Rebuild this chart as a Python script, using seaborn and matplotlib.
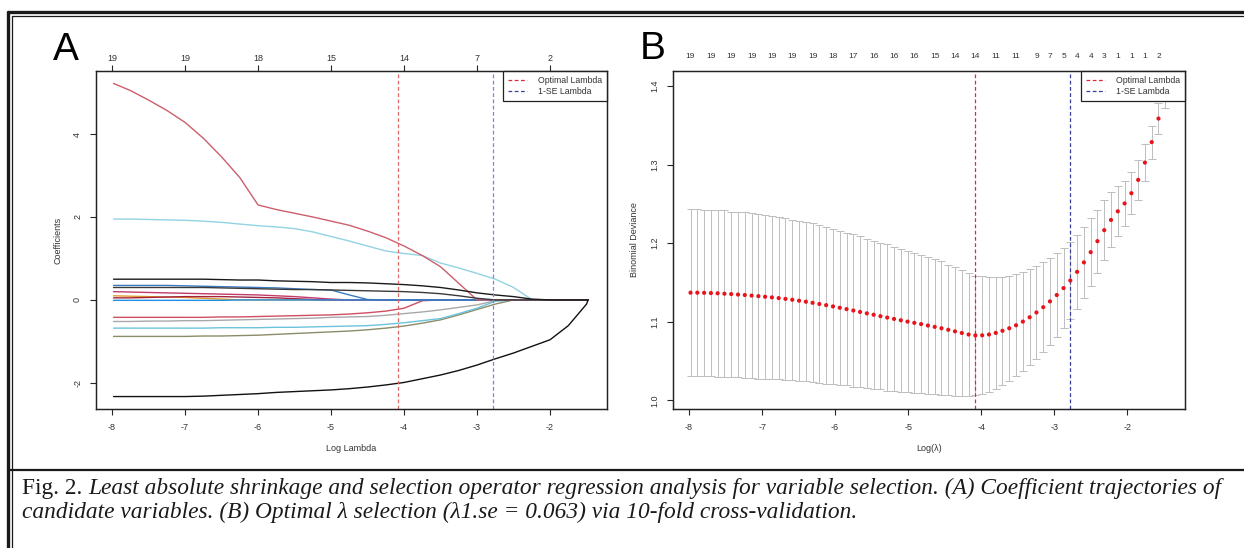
import numpy as np
import pandas as pd
import matplotlib
matplotlib.use("Agg")
import matplotlib.pyplot as plt
from matplotlib.lines import Line2D
import seaborn as sns

# ------------------------------------------------------------
# DATA - panel A (lasso coefficient paths)
# ------------------------------------------------------------
log_lambda_a = [-7.98, -7.75, -7.5, -7.25, -7.0, -6.75, -6.5, -6.25, -6.0, -5.75,
                -5.5, -5.25, -5.0, -4.75, -4.5, -4.25, -4.0, -3.75, -3.5, -3.25,
                -3.0, -2.75, -2.5, -2.25, -2.0, -1.75, -1.5, -1.48]

coef_red = [5.22, 5.05, 4.82, 4.57, 4.28, 3.90, 3.45, 2.95, 2.29, 2.18,
            2.09, 2.00, 1.90, 1.80, 1.66, 1.50, 1.30, 1.07, 0.80, 0.40,
            0, 0, 0, 0, 0, 0, 0, 0]
coef_cyan = [1.95, 1.95, 1.94, 1.93, 1.92, 1.90, 1.87, 1.83, 1.79, 1.76,
             1.72, 1.64, 1.53, 1.42, 1.30, 1.18, 1.12, 1.07, 0.89, 0.77,
             0.64, 0.50, 0.30, 0.01, 0, 0, 0, 0]
coef_black1 = [0.50, 0.50, 0.50, 0.50, 0.50, 0.50, 0.49, 0.48, 0.48, 0.46,
               0.45, 0.44, 0.42, 0.42, 0.41, 0.39, 0.37, 0.34, 0.30, 0.24,
               0.17, 0.12, 0.08, 0.02, 0, 0, 0, 0]
coef_black2 = [0.30, 0.30, 0.30, 0.30, 0.30, 0.30, 0.29, 0.28, 0.27, 0.26,
               0.25, 0.25, 0.24, 0.23, 0.22, 0.21, 0.20, 0.18, 0.15, 0.10,
               0.04, 0, 0, 0, 0, 0, 0, 0]
coef_blue = [0.35, 0.35, 0.35, 0.35, 0.34, 0.33, 0.32, 0.31, 0.30, 0.29,
             0.27, 0.25, 0.24, 0.12, 0.01, 0, 0, 0, 0, 0,
             0, 0, 0, 0, 0, 0, 0, 0]
coef_crimson = [0.20, 0.19, 0.18, 0.17, 0.16, 0.15, 0.14, 0.13, 0.12, 0.10,
                0.08, 0.05, 0.02, 0, 0, 0, 0, 0, 0, 0,
                0, 0, 0, 0, 0, 0, 0, 0]
coef_orange = [0.10, 0.09, 0.08, 0.07, 0.06, 0.04, 0.02, 0, 0, 0,
               0, 0, 0, 0, 0, 0, 0, 0, 0, 0,
               0, 0, 0, 0, 0, 0, 0, 0]
coef_darkred = [0.05, 0.05, 0.06, 0.07, 0.08, 0.08, 0.08, 0.07, 0.06, 0.05,
                0.03, 0.01, 0, 0, 0, 0, 0, 0, 0, 0,
                0, 0, 0, 0, 0, 0, 0, 0]
coef_sky = [-0.01, -0.01, -0.01, -0.01, -0.01, -0.01, -0.01, 0, 0, 0,
            0, 0, 0, 0, 0, 0, 0, 0, 0, 0,
            0, 0, 0, 0, 0, 0, 0, 0]
coef_negred = [-0.42, -0.42, -0.42, -0.42, -0.42, -0.42, -0.41, -0.41, -0.40, -0.39,
               -0.38, -0.37, -0.36, -0.34, -0.31, -0.27, -0.20, -0.02, 0, 0,
               0, 0, 0, 0, 0, 0, 0, 0]
coef_gray = [-0.52, -0.52, -0.51, -0.51, -0.50, -0.50, -0.49, -0.48, -0.47, -0.46,
             -0.45, -0.44, -0.42, -0.41, -0.40, -0.37, -0.33, -0.29, -0.24, -0.18,
             -0.12, -0.02, 0, 0, 0, 0, 0, 0]
coef_negcyan = [-0.68, -0.68, -0.68, -0.68, -0.68, -0.68, -0.67, -0.67, -0.67, -0.66,
                -0.66, -0.65, -0.64, -0.63, -0.62, -0.59, -0.55, -0.50, -0.45, -0.33,
                -0.20, -0.03, 0, 0, 0, 0, 0, 0]
coef_olive = [-0.88, -0.88, -0.88, -0.88, -0.88, -0.87, -0.87, -0.86, -0.85, -0.83,
              -0.81, -0.79, -0.77, -0.75, -0.72, -0.68, -0.63, -0.56, -0.48, -0.36,
              -0.23, -0.10, 0, 0, 0, 0, 0, 0]
coef_bottom = [-2.33, -2.33, -2.33, -2.33, -2.33, -2.32, -2.30, -2.28, -2.26, -2.23,
               -2.21, -2.19, -2.17, -2.14, -2.10, -2.05, -1.99, -1.90, -1.81, -1.70,
               -1.57, -1.42, -1.28, -1.12, -0.96, -0.62, -0.10, 0.0]

top_ticks_a = [-8, -7, -6, -5, -4, -3, -2]
top_labels_a = ["19", "19", "18", "15", "14", "7", "2"]

# ------------------------------------------------------------
# DATA - panel B (10-fold CV binomial deviance)
# ------------------------------------------------------------
log_lambda_b = [-7.980, -7.887, -7.794, -7.701, -7.609, -7.516, -7.423, -7.330, -7.237, -7.144,
                -7.051, -6.959, -6.866, -6.773, -6.680, -6.587, -6.494, -6.401, -6.309, -6.216,
                -6.123, -6.030, -5.937, -5.844, -5.751, -5.659, -5.566, -5.473, -5.380, -5.287,
                -5.194, -5.101, -5.009, -4.916, -4.823, -4.730, -4.637, -4.544, -4.451, -4.359,
                -4.266, -4.173, -4.080, -3.987, -3.894, -3.801, -3.709, -3.616, -3.523, -3.430,
                -3.337, -3.244, -3.151, -3.059, -2.966, -2.873, -2.780, -2.687, -2.594, -2.501,
                -2.409, -2.316, -2.223, -2.130, -2.037, -1.944, -1.851, -1.759, -1.666, -1.573,
                -1.480]
deviance = [1.1370, 1.1370, 1.1368, 1.1365, 1.1362, 1.1357, 1.1352, 1.1346, 1.1340, 1.1333,
            1.1326, 1.1318, 1.1310, 1.1301, 1.1291, 1.1280, 1.1268, 1.1255, 1.1241, 1.1226,
            1.1211, 1.1195, 1.1178, 1.1161, 1.1143, 1.1125, 1.1107, 1.1089, 1.1071, 1.1053,
            1.1036, 1.1019, 1.1002, 1.0986, 1.0970, 1.0952, 1.0935, 1.0917, 1.0898, 1.0878,
            1.0857, 1.0838, 1.0826, 1.0827, 1.0838, 1.0858, 1.0885, 1.0917, 1.0955, 1.1002,
            1.1057, 1.1118, 1.1185, 1.1259, 1.1340, 1.1428, 1.1525, 1.1635, 1.1755, 1.1885,
            1.2025, 1.2165, 1.2295, 1.2405, 1.2505, 1.2635, 1.2805, 1.3025, 1.3285, 1.3585,
            1.3920]
deviance_se = [0.106, 0.106, 0.106, 0.106, 0.106, 0.106, 0.105, 0.105, 0.105, 0.105,
               0.105, 0.104, 0.104, 0.103, 0.103, 0.102, 0.102, 0.101, 0.101, 0.100,
               0.100, 0.099, 0.098, 0.097, 0.097, 0.096, 0.095, 0.094, 0.093, 0.093,
               0.092, 0.091, 0.090, 0.089, 0.088, 0.087, 0.086, 0.085, 0.083, 0.082,
               0.080, 0.078, 0.076, 0.075, 0.073, 0.071, 0.069, 0.067, 0.065, 0.063,
               0.061, 0.059, 0.057, 0.055, 0.053, 0.051, 0.049, 0.047, 0.045, 0.043,
               0.040, 0.038, 0.035, 0.032, 0.029, 0.027, 0.025, 0.023, 0.021, 0.020,
               0.020]

top_idx_b = [0, 3, 6, 9, 12, 15, 18, 21, 24, 27, 30, 33, 36, 39, 42, 45, 48, 51,
             53, 55, 57, 59, 61, 63, 65, 67, 69]
top_labels_b = ["19", "19", "19", "19", "19", "19", "19", "18", "17", "16", "16", "16",
                "15", "14", "14", "11", "11", "9", "7", "5", "4", "4", "3", "1", "1", "1", "2"]

lambda_min_log = -4.08
lambda_1se_log = -2.78

caption_1 = ("Least absolute shrinkage and selection operator regression analysis for "
             "variable selection. (A) Coefficient trajectories of")
caption_2 = ("candidate variables. (B) Optimal \u03bb selection (\u03bb1.se = 0.063) "
             "via 10-fold cross-validation.")

# ------------------------------------------------------------
# STYLE
# ------------------------------------------------------------
sns.set_style("white")
plt.rcParams['font.family'] = ['Liberation Sans', 'DejaVu Sans']
plt.rcParams['axes.linewidth'] = 0.9
plt.rcParams['axes.unicode_minus'] = False

TXT = '#333333'
W, H = 1244, 548
fig = plt.figure(figsize=(W / 100, H / 100), dpi=100)
fig.patch.set_facecolor('white')


def fx(px):
    return px / W


def fy(py):
    return 1 - py / H


axA = fig.add_axes([fx(96), fy(409), fx(511), 338 / H])
axB = fig.add_axes([fx(673), fy(409), fx(512), 338 / H])

# ------------------------------------------------------------
# PANEL A
# ------------------------------------------------------------
path_cols = {
    'olive': coef_olive, 'gray': coef_gray, 'negcyan': coef_negcyan,
    'negred': coef_negred, 'orange': coef_orange, 'darkred': coef_darkred,
    'crimson': coef_crimson, 'sky': coef_sky, 'blue': coef_blue,
    'cyan': coef_cyan, 'red': coef_red, 'black2': coef_black2,
    'black1': coef_black1, 'bottom': coef_bottom,
}
palette = {
    'olive': '#8c8c6a', 'gray': '#a8a8a8', 'negcyan': '#6cc3dc',
    'negred': '#cf4f62', 'orange': '#e39a2a', 'darkred': '#a3233f',
    'crimson': '#c23a6a', 'sky': '#1f8fe6', 'blue': '#3a7abf',
    'cyan': '#92d3e4', 'red': '#cc5f6c', 'black2': '#3a3a3a',
    'black1': '#1a1a1a', 'bottom': '#111111',
}
paths = pd.DataFrame(path_cols)
paths['log_lambda'] = log_lambda_a
paths_long = paths.melt(id_vars='log_lambda', var_name='var', value_name='coef')

sns.lineplot(data=paths_long, x='log_lambda', y='coef', hue='var',
             hue_order=list(path_cols.keys()), palette=palette,
             linewidth=1.0, legend=False, sort=False, ax=axA)

axA.axvline(lambda_min_log, color='#e06a6a', linestyle=(0, (3, 2)), linewidth=0.9)
axA.axvline(lambda_1se_log, color='#7b86d6', linestyle=(0, (3, 2)), linewidth=0.9)

axA.set_xlim(-8.22, -1.22)
axA.set_ylim(-2.63, 5.52)
axA.set_xticks([-8, -7, -6, -5, -4, -3, -2])
axA.set_yticks([-2, 0, 2, 4])
axA.set_yticklabels(['-2', '0', '2', '4'], rotation=90, va='center')
axA.set_xlabel('Log Lambda', fontsize=6.5, color=TXT, labelpad=9)
axA.set_ylabel('Coefficients', fontsize=6.5, color=TXT, labelpad=8)

topA = axA.twiny()
topA.set_xlim(axA.get_xlim())
topA.set_xticks(top_ticks_a)
topA.set_xticklabels(top_labels_a)
topA.tick_params(axis='x', length=4, width=0.8, labelsize=6.5, labelcolor=TXT, pad=2)

# ------------------------------------------------------------
# PANEL B
# ------------------------------------------------------------
cv = pd.DataFrame({'log_lambda': log_lambda_b, 'deviance': deviance, 'se': deviance_se})

axB.errorbar(cv['log_lambda'], cv['deviance'], yerr=cv['se'], fmt='none',
             ecolor='#bdbdbd', elinewidth=0.7, capsize=3.2, capthick=0.7, zorder=1)
sns.scatterplot(data=cv, x='log_lambda', y='deviance', color='#e8141c', s=9,
                edgecolor='none', zorder=3, ax=axB)

axB.axvline(lambda_min_log, color='#e0283a', linestyle=(0, (3, 2)), linewidth=0.9)
axB.axvline(lambda_1se_log, color='#3b3f9a', linestyle=(0, (3, 2)), linewidth=0.9)

axB.set_xlim(-8.22, -1.21)
axB.set_ylim(0.989, 1.419)
axB.set_xticks([-8, -7, -6, -5, -4, -3, -2])
axB.set_yticks([1.0, 1.1, 1.2, 1.3, 1.4])
axB.set_yticklabels(['1.0', '1.1', '1.2', '1.3', '1.4'], rotation=90, va='center')
axB.set_xlabel('Log(\u03bb)', fontsize=6.5, color=TXT, labelpad=9)
axB.set_ylabel('Binomial Deviance', fontsize=6.5, color=TXT, labelpad=8)

topB = axB.twiny()
topB.set_xlim(axB.get_xlim())
topB.set_xticks([log_lambda_b[i] for i in top_idx_b])
topB.set_xticklabels(top_labels_b)
topB.tick_params(axis='x', length=0, labelsize=6.0, labelcolor=TXT, pad=8)

# shared axis cosmetics (R-like box + outward ticks)
for ax in (axA, axB, topA, topB):
    for sp in ax.spines.values():
        sp.set_visible(True)
        sp.set_color('#222222')
        sp.set_linewidth(0.9)
for ax in (axA, axB):
    ax.tick_params(axis='both', direction='out', length=4, width=0.8,
                   labelsize=6.5, labelcolor=TXT, pad=6)
    ax.tick_params(axis='both', bottom=True, left=True)
    handles = [Line2D([], [], color='#e0283a', linestyle=(0, (3, 2)), linewidth=0.9),
               Line2D([], [], color='#3b3f9a', linestyle=(0, (3, 2)), linewidth=0.9)]
    leg = ax.legend(handles, ['Optimal Lambda', '1-SE Lambda'], loc='upper right',
                    fontsize=6.3, frameon=True, fancybox=False, framealpha=1,
                    edgecolor='#222222', borderaxespad=0, handlelength=2.2,
                    borderpad=0.6, labelspacing=0.15, handletextpad=1.2)
    leg.get_frame().set_linewidth(0.9)
    for t in leg.get_texts():
        t.set_color(TXT)
topA.tick_params(axis='x', direction='out', bottom=False, top=True)

# panel letters
fig.text(fx(53), fy(60), 'A', fontsize=28, color='black',
         family=['Liberation Sans Narrow', 'Liberation Sans'], va='baseline')
fig.text(fx(640), fy(59), 'B', fontsize=28, color='black',
         family=['Liberation Sans Narrow', 'Liberation Sans'], va='baseline')

# ------------------------------------------------------------
# FRAME + CAPTION
# ------------------------------------------------------------
frame = [((8, 1244), (11.5, 11.5), 2.4), ((12, 1244), (15.5, 15.5), 0.9),
         ((8, 8), (11.5, 548), 2.4), ((12, 12), (15.5, 548), 0.9),
         ((8, 1244), (470, 470), 1.6)]
for xs, ys, lw in frame:
    fig.add_artist(Line2D([fx(xs[0]), fx(xs[1])], [fy(ys[0]), fy(ys[1])],
                          color='#1a1a1a', linewidth=lw, transform=fig.transFigure))

cap_font = 'Liberation Serif'
cap_size = 16.8
t0 = fig.text(fx(22), fy(494), 'Fig. 2. ', fontsize=cap_size, family=cap_font,
              color='#1a1a1a', va='baseline')
fig.canvas.draw()
bb = t0.get_window_extent(renderer=fig.canvas.get_renderer())
fig.text(bb.x1 / W, fy(494), caption_1, fontsize=cap_size, family=cap_font,
         style='italic', color='#1a1a1a', va='baseline')
fig.text(fx(22), fy(518), caption_2, fontsize=cap_size, family=cap_font,
         style='italic', color='#1a1a1a', va='baseline')

plt.savefig('out.png', dpi=100)
print("saved out.png")
